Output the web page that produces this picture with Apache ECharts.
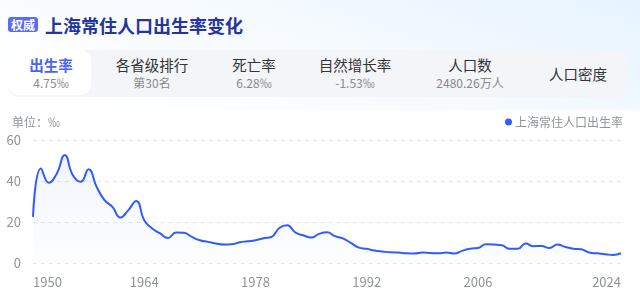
<!DOCTYPE html>
<html><head><meta charset="utf-8">
<script src="https://cdn.jsdelivr.net/npm/echarts@6/dist/echarts.min.js"></script>
<style>
html,body{margin:0;padding:0;width:640px;height:307px;overflow:hidden;background:#fff;font-family:"Noto Sans CJK SC","Noto Sans",sans-serif;}
#bg{position:absolute;left:0;top:0;width:640px;height:110px;background:linear-gradient(200deg,#e6f3ff 0%,#f5faff 45%,#ffffff 90%);}
#badge{position:absolute;left:8px;top:17px;width:30px;height:15px;border-radius:3px;background:#5b6ef2;color:#fff;font-size:12px;line-height:15px;text-align:center;font-weight:600;}
#title{position:absolute;left:45px;top:12px;font-size:18px;line-height:26px;font-weight:700;color:#26359c;}
#bar{position:absolute;left:8px;top:50px;width:619px;height:47px;border-radius:10px;background:#f3f5f9;}
#active{position:absolute;left:8px;top:50px;width:83px;height:45px;border-radius:10px;background:#fff;}
.tab{position:absolute;width:120px;text-align:center;}
.tl{font-size:14.5px;line-height:18px;color:#333;}
.tv{font-size:12px;line-height:14px;color:#8a8a8a;margin-top:2px;}
#chart{position:absolute;left:0;top:0;width:640px;height:307px;}
</style></head>
<body>
<div id="bg"></div>
<div id="badge">权威</div>
<div id="title">上海常住人口出生率变化</div>
<div id="bar"></div>
<div id="active"></div>
<div id="tabs"></div>
<div id="chart"></div>
<script>
const years = [];
for (let y = 1950; y <= 2024; y++) years.push(String(y));
const birthRate = [
  22.5, 46.1, 39.1, 43.7, 52.7, 42.9, 39.6, 45.7, 37.2, 30.7,
  27.4, 22.2, 25.8, 30.2, 20.9, 16.8, 14.4, 12.2, 14.9, 14.7,
  12.7, 11.1, 10.3, 9.5, 9.0, 9.1, 10.1, 10.6, 11.1, 12.1,
  12.7, 17.1, 18.4, 14.9, 13.5, 12.4, 14.2, 15.0, 13.1, 12.0,
  9.8, 7.5, 6.9, 6.1, 5.6, 5.2, 5.1, 4.7, 4.6, 5.1,
  4.9, 4.7, 5.1, 4.6, 5.9, 7.0, 7.3, 9.1, 9.0, 8.7,
  6.9, 6.9, 9.5, 8.2, 8.3, 7.3, 9.0, 7.8, 7.0, 6.7,
  5.1, 4.7, 4.3, 3.9, 4.75
];
const yTicks = [0, 20, 40, 60];
const tabNames = ["出生率", "各省级排行", "死亡率", "自然增长率", "人口数", "人口密度"];
const tabValues = ["4.75‰", "第30名", "6.28‰", "-1.53‰", "2480.26万人", ""];
const tabCenters = [51, 152, 254, 355, 470, 578];

const tabs = document.getElementById('tabs');
tabNames.forEach((n, i) => {
  const d = document.createElement('div');
  d.className = 'tab';
  d.style.left = (tabCenters[i] - 60) + 'px';
  d.style.top = (tabValues[i] ? 56 : 65) + 'px';
  const l = document.createElement('div');
  l.className = 'tl';
  l.textContent = n;
  if (i === 0) { l.style.color = '#4a63f0'; l.style.fontWeight = '600'; }
  d.appendChild(l);
  if (tabValues[i]) {
    const v = document.createElement('div');
    v.className = 'tv';
    v.textContent = tabValues[i];
    d.appendChild(v);
  }
  tabs.appendChild(d);
});

const chart = echarts.init(document.getElementById('chart'), null, {renderer: 'canvas'});
const lastIdx = years.length - 1;
chart.setOption({
  backgroundColor: 'transparent',
  animation: false,
  textStyle: {fontFamily: '"Noto Sans CJK SC","Noto Sans",sans-serif'},
  title: {
    text: '单位：‰', left: 7, top: 111,
    textStyle: {fontSize: 12, fontWeight: 'normal', color: '#8f939b'}
  },
  legend: {
    right: 12, top: 111, icon: 'circle', itemWidth: 7, itemHeight: 7, itemGap: 4,
    textStyle: {fontSize: 12, color: '#8f939b', padding: [0, 0, 0, -2]},
    data: ['上海常住人口出生率']
  },
  grid: {left: 33, right: 19, top: 140, bottom: 44, containLabel: false},
  xAxis: {
    type: 'category', data: years, boundaryGap: false,
    axisLine: {show: false}, axisTick: {show: false},
    axisLabel: {
      color: '#8f939b', fontSize: 13, margin: 13,
      showMaxLabel: true, alignMinLabel: 'left', alignMaxLabel: 'right',
      interval: (idx) => (idx % 14 === 0 && idx < 70) || idx === lastIdx
    }
  },
  yAxis: {
    type: 'value', min: yTicks[0], max: yTicks[yTicks.length - 1], interval: 20,
    axisLine: {show: false}, axisTick: {show: false},
    axisLabel: {color: '#8f939b', fontSize: 13, margin: 12},
    splitLine: {lineStyle: {color: '#e6e8ec', type: [4, 4]}}
  },
  series: [{
    name: '上海常住人口出生率', type: 'line', data: birthRate,
    smooth: 0.5, symbol: 'none', showSymbol: false,
    itemStyle: {color: '#2f5cfb'},
    lineStyle: {color: '#2f5cfb', width: 2},
    areaStyle: {color: new echarts.graphic.LinearGradient(0, 0, 0, 1, [
      {offset: 0, color: 'rgba(47,92,251,0.09)'},
      {offset: 1, color: 'rgba(47,92,251,0.01)'}
    ])}
  }]
});
</script>
</body></html>
